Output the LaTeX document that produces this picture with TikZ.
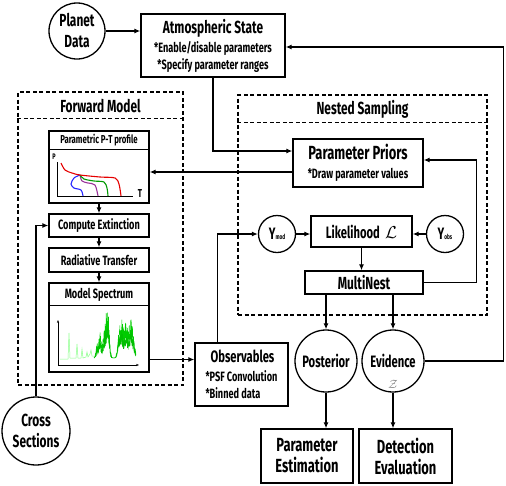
\documentclass[tikz,border=0pt]{standalone}
\usepackage{fontspec}
\setmainfont{Fira Sans}[FakeStretch=0.68]
\usepackage{tikz}
\usetikzlibrary{positioning, arrows.meta}

\newcommand{\fsXL}{\bfseries\fontsize{19}{21}\selectfont}
\newcommand{\fsL}{\bfseries\fontsize{17.5}{21}\selectfont}
\newcommand{\fsM}{\bfseries\fontsize{16.5}{19}\selectfont}
\newcommand{\fsS}{\bfseries\fontsize{13.5}{17}\selectfont}
\newcommand{\fsXS}{\bfseries\fontsize{11.5}{14}\selectfont}

\begin{document}
\begin{tikzpicture}[
    x=1pt, y=-1pt, line width=1.3pt,
    box/.style={rectangle, draw, inner sep=0pt, align=center},
    circ/.style={circle, draw, inner sep=0pt, align=center},
    frame/.style={rectangle, draw, dash pattern=on 4pt off 2.5pt, inner sep=0pt},
    arr/.style={-{Latex[length=6pt, width=5pt]}},
    declare function={bump(\x,\c,\w)=exp(-((\x-\c)/\w)*((\x-\c)/\w));
        spec(\x)=358-10*bump(\x,97,1.5)-18*bump(\x,100,1.5)-24*bump(\x,105,2.5)-28*bump(\x,108,2)
                 -15*bump(\x,119,2)-25*bump(\x,122,2.5)-20*bump(\x,126,2)-28*bump(\x,131,3.5);}
]
\useasboundingbox (0,0) rectangle (506,485);

% dashed frames
\node[frame, minimum width=165pt, minimum height=293pt] (fwd) at (100.5,238.5) {};
\draw[dash pattern=on 4pt off 2.5pt] ([yshift=-27pt]fwd.north west) -- ([yshift=-27pt]fwd.north east);
\node[font=\fsL] (fwdtitle) at (100.5,106) {Forward Model};

\node[frame, minimum width=249pt, minimum height=220pt] (ns) at (362.5,205) {};
\draw[dash pattern=on 4pt off 2.5pt] ([yshift=-28pt]ns.north west) -- ([yshift=-28pt]ns.north east);
\node[font=\fsL] (nstitle) at (362.5,109) {Nested Sampling};

% inputs
\node[circ, minimum size=56pt, font=\fsL] (planet) at (77,31) {Planet\\Data};
\node[box, minimum width=144pt, minimum height=63pt, font=\fsS] (atm) at (213,45.5)
    {{\fsL Atmospheric State}\\[2pt]*Enable/disable parameters\\*Specify parameter ranges};
\node[circ, minimum size=68pt, font=\fsL] (cross) at (36,431) {Cross\\Sections};

% forward model
\node[box, minimum width=100pt, minimum height=72pt] (pt) at (99,167) {};
\draw ([yshift=-19pt]pt.north west) -- ([yshift=-19pt]pt.north east);
\node[font=\fsXS] (pttitle) at (99,140.5) {Parametric P-T profile};
\node[box, minimum width=100pt, minimum height=23pt, font=\fsS, below of=pt, node distance=58.5pt] (ext) {Compute Extinction};
\node[box, minimum width=100pt, minimum height=24pt, font=\fsS, below of=ext, node distance=34.5pt] (rt) {Radiative Transfer};
\node[box, minimum width=100pt, minimum height=89pt, below of=rt, node distance=67.5pt] (ms) {};
\draw ([yshift=-23pt]ms.north west) -- ([yshift=-23pt]ms.north east);
\node[font=\fsS] (mstitle) at (99,294.5) {Model Spectrum};

% P-T plot
\draw[line width=0.9pt] (57,162) -- (57,196) -- (133,196);
\node[font=\fsXS, scale=0.7] (plab) at (54,157) {P};
\node[font=\fsXS] (tlab) at (140,194) {T};
\draw[blue!85, line width=1.1pt] plot[smooth] coordinates {(80,175) (74,178) (71,184) (74,188) (81,190) (83,196)};
\draw[violet!80, line width=1.1pt] plot[smooth] coordinates {(80,175) (82,181) (88,183) (95,185) (98,196)};
\draw[green!60!black, line width=1.1pt] plot[smooth] coordinates {(80,175) (84,179) (94,181) (104,182) (107,188) (108,196)};
\draw[red!90!black, line width=1.1pt] plot[smooth] coordinates {(61,163) (65,170) (72,173) (80,175) (100,177) (115,178) (119,184) (121,196)};

% spectrum plot
\draw[{Stealth[length=3pt]}-{Stealth[length=3pt]}, line width=0.8pt] (58,320) -- (58,365) -- (139,365);
\draw[green!45, line width=0.5pt] plot coordinates {(60,359) (68,359) (69,333) (70,358) (76,358) (77,344)
    (78,358) (81,358) (82,349) (83,358) (86,357) (87,352) (88,357) (90,354) (91,350) (92,356) (94,356)};
\pgfmathsetseed{7}
\draw[green!80!black, line width=0.5pt] plot[domain=94:136, samples=300] (\x, {spec(\x)+0.45*(358-spec(\x))*rand});
\draw[green!75!black, line width=0.4pt] plot[domain=94:136, samples=250] (\x, {spec(\x)+0.3*(358-spec(\x))*(1+rand)});

% observables
\node[box, minimum width=93pt, minimum height=63pt, font=\fsS, align=left] (obs) at (241.5,374.5)
    {\hspace*{5pt}{\fsM Observables}\\[2pt]*PSF Convolution\\*Binned data};

% nested sampling
\node[box, minimum width=130pt, minimum height=48pt, font=\fsS] (priors) at (358,163)
    {{\fsXL Parameter Priors}\\[2pt]*Draw parameter values};
\node[box, minimum width=101pt, minimum height=31pt, font=\fsM] (lik) at (361.5,231.5) {Likelihood~~$\mathcal{L}$};
\node[circ, minimum size=37pt, font=\fsM] (ymod) at (277,234) {Y{\fontsize{7}{7}\selectfont mod}};
\node[circ, minimum size=37pt, font=\fsM] (yobs) at (445,234) {Y{\fontsize{7}{7}\selectfont obs}};
\node[box, minimum width=118pt, minimum height=23pt, font=\fsL, below of=lik, node distance=51pt, xshift=2.5pt] (multi) {MultiNest};

% outputs
\node[circ, minimum size=62pt, font=\fsM] (post) at (326,361) {Posterior};
\node[circ, minimum size=62pt, font=\fsM, right of=post, node distance=67pt] (evid) {Evidence};
\node[font=\fontsize{12}{12}\selectfont, text=gray, below of=evid, node distance=23pt] (zsym) {$\mathcal{Z}$};
\node[box, minimum width=92pt, minimum height=54pt, font=\fsXL, below of=post, node distance=95pt, xshift=-19pt] (pe) {Parameter\\Estimation};
\node[box, minimum width=93pt, minimum height=54pt, font=\fsXL, below of=evid, node distance=95pt, xshift=12.5pt] (de) {Detection\\Evaluation};

% connectors
\draw[arr] (planet.east) -- (planet.east -| atm.west);
\draw[arr] (atm.south) |- ([yshift=12pt]priors.west);
\draw[arr] ([yshift=-9pt]priors.west) -- ([yshift=-9pt]priors.west -| pt.east);
\draw[arr] (pt) -- (ext);
\draw[arr] (ext) -- (rt);
\draw[arr] (rt) -- (ms);
\draw[arr] (cross) |- (ext.west);
\draw[arr] ([yshift=-32pt]ms.east) -- ([yshift=-32pt]ms.east -| obs.west);
\draw[arr] ([xshift=-24pt]obs.north) |- (ymod);
\draw[arr] (ymod) -- (ymod -| lik.west);
\draw[arr] (yobs) -- (yobs -| lik.east);
\draw[arr] (lik.south) -- (lik.south |- multi.north);
\draw[arr] (multi.east) -- ++(53pt,0) |- ([yshift=3pt]priors.east);
\draw[arr] (multi.south -| post) -- (post);
\draw[arr] (multi.south -| evid) -- (evid);
\draw[arr] (post) -- (post |- pe.north);
\draw[arr] (evid) -- (evid |- de.north);
\draw[arr] (evid.east) -- ++(79pt,0) |- ([yshift=-1.5pt]atm.east);

\end{tikzpicture}
\end{document}
